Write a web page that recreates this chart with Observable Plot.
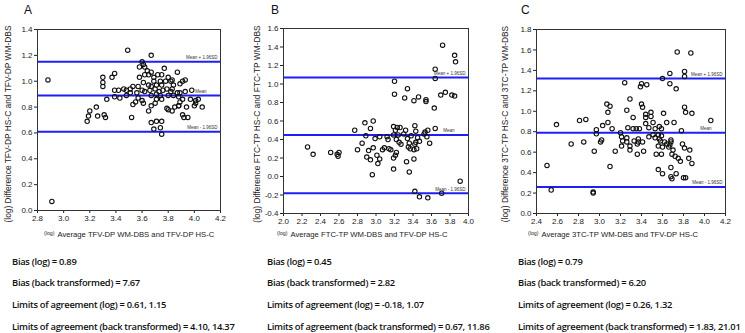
<!DOCTYPE html>
<html><head><meta charset="utf-8">
<script src="https://cdn.jsdelivr.net/npm/d3@7"></script>
<script src="https://cdn.jsdelivr.net/npm/@observablehq/plot@0.6"></script>
<style>
body{margin:0;background:#fff;}
#wrap{position:relative;width:745px;height:333px;overflow:hidden;background:#fff;font-family:"Liberation Sans",Arial,sans-serif;}
.abs{position:absolute;white-space:nowrap;}
.ylab{font-size:8.4px;color:#222;transform:translate(-50%,-50%) rotate(-90deg);line-height:10px;}
.xlab{font-size:7.7px;color:#222;line-height:12px;}
.xlab small{font-size:5.2px;vertical-align:2px;margin-right:3px;}
.plab{font-size:12px;color:#111;line-height:14px;}
.stat{font-family:"Open Sans",sans-serif;font-weight:600;font-size:9.4px;letter-spacing:-0.3px;color:#111;line-height:14px;}
svg{position:absolute;}
</style></head><body><div id="wrap"></div>
<script>
// Panel A: TFV-DP
const aX = [3.49,3.67,3.60,3.61,3.62,3.58,3.77,3.39,3.37,3.30,
3.30,3.30,3.64,3.67,3.65,3.69,3.62,3.58,3.72,3.75,
3.80,3.83,3.87,3.69,3.74,3.78,3.71,3.75,3.82,3.84,
3.91,3.93,3.89,3.61,3.65,3.67,3.57,3.53,3.46,3.42,
3.39,3.48,3.51,3.60,3.62,3.66,3.70,3.73,3.76,3.79,
3.82,3.83,3.87,3.89,3.93,3.98,3.56,3.51,3.48,3.67,
3.71,3.74,3.80,3.84,3.88,3.39,3.43,3.33,3.57,3.60,
3.55,3.61,3.53,3.71,3.70,3.75,3.91,3.89,3.88,3.97,
4.01,4.03,4.01,4.00,4.06,3.94,3.67,3.65,3.79,3.80,
3.83,3.85,3.88,3.91,3.92,3.95,3.25,3.20,3.26,3.31,
3.32,3.19,3.18,3.52,3.67,3.71,3.75,3.69,3.74,3.75,
2.88,2.91];
const aY = [1.24,1.20,1.15,1.13,1.11,1.11,1.10,1.06,1.03,1.03,
0.99,0.96,1.08,1.07,1.05,1.03,1.05,1.03,1.05,1.05,
1.03,1.01,1.07,1.00,1.00,1.00,0.97,0.97,1.00,0.97,
1.00,1.01,0.98,0.99,0.97,0.96,0.96,0.96,0.94,0.93,
0.93,0.93,0.94,0.93,0.92,0.93,0.94,0.92,0.93,0.94,
0.92,0.94,0.91,0.91,0.92,0.93,0.91,0.91,0.89,0.89,
0.90,0.89,0.89,0.89,0.88,0.88,0.87,0.86,0.87,0.85,
0.84,0.83,0.82,0.86,0.83,0.86,0.86,0.84,0.81,0.86,
0.85,0.86,0.83,0.81,0.80,0.80,0.81,0.77,0.79,0.78,
0.77,0.80,0.81,0.74,0.72,0.72,0.80,0.77,0.73,0.74,
0.72,0.73,0.69,0.72,0.68,0.69,0.69,0.63,0.64,0.59,
1.01,0.07];

// Panel B: FTC-TP
const bX = [3.72,3.85,3.86,3.64,3.64,3.20,3.34,3.20,3.31,3.41,
3.46,3.54,3.54,3.63,3.70,3.75,3.82,3.85,2.97,2.88,
2.77,2.94,2.89,2.85,2.80,2.99,3.04,3.12,3.13,3.19,
3.23,3.26,3.32,3.42,3.43,3.53,3.56,3.64,3.21,3.19,
3.24,3.30,3.38,3.45,3.55,3.52,3.22,3.25,3.34,3.36,
3.43,3.47,3.58,3.27,3.14,3.09,3.07,3.16,3.22,3.21,
3.19,2.92,2.97,2.90,2.94,3.01,3.04,3.02,3.35,3.37,
3.41,3.44,3.42,3.41,3.33,3.19,3.36,2.96,2.26,2.32,
2.51,2.58,2.60,2.59,3.91,3.42,3.47,3.56,3.71];
const bY = [1.42,1.31,1.24,1.16,1.06,1.03,0.95,0.89,0.85,0.82,
0.86,0.83,0.81,0.74,0.88,0.91,0.88,0.87,0.60,0.58,
0.50,0.52,0.44,0.36,0.29,0.41,0.43,0.43,0.40,0.54,
0.53,0.53,0.50,0.55,0.49,0.48,0.50,0.52,0.50,0.45,
0.45,0.46,0.44,0.42,0.43,0.46,0.40,0.37,0.41,0.36,
0.37,0.38,0.36,0.35,0.30,0.31,0.29,0.29,0.26,0.23,
0.20,0.28,0.31,0.21,0.18,0.23,0.19,0.14,0.32,0.30,
0.29,0.30,0.35,0.19,0.16,0.08,0.05,0.02,0.32,0.24,
0.26,0.24,0.26,0.22,-0.05,-0.16,-0.22,-0.23,-0.18];

// Panel C: 3TC-TP
const cX = [3.74,3.87,3.67,3.81,3.81,3.60,3.24,3.40,3.45,3.39,
3.67,3.73,3.29,3.07,3.10,3.08,3.26,3.40,3.41,3.32,
3.44,3.44,3.49,3.49,3.61,3.81,3.82,3.88,4.06,3.08,
3.03,3.12,2.81,2.87,2.59,2.97,3.27,3.32,3.35,3.38,
3.44,3.47,3.51,3.53,3.57,3.59,3.64,3.71,3.78,3.20,
2.97,2.73,2.85,3.02,3.01,2.95,3.15,3.10,2.50,3.21,
3.22,3.21,3.26,3.26,3.29,3.29,3.33,3.36,3.37,3.37,
3.41,3.42,3.36,3.47,3.51,3.53,3.56,3.57,3.58,3.59,
3.62,3.64,3.67,3.68,3.68,3.56,3.60,3.66,3.70,3.54,
3.59,3.69,3.72,3.75,3.77,3.79,3.81,3.86,3.85,3.88,
3.56,3.60,3.68,3.73,3.68,3.69,3.80,3.82,2.54,2.94,
2.94];
const cY = [1.58,1.57,1.37,1.39,1.34,1.32,1.28,1.27,1.26,1.24,
1.27,1.22,1.12,1.07,1.05,0.99,1.01,1.07,1.04,0.94,
0.97,0.94,0.99,0.95,0.98,1.04,0.99,0.98,0.91,0.89,
0.86,0.83,0.91,0.92,0.87,0.82,0.84,0.83,0.83,0.83,
0.88,0.84,0.89,0.83,0.85,0.83,0.89,0.89,0.81,0.79,
0.78,0.68,0.70,0.72,0.70,0.61,0.61,0.46,0.47,0.75,
0.71,0.66,0.74,0.70,0.66,0.62,0.71,0.68,0.73,0.70,
0.70,0.61,0.58,0.75,0.77,0.74,0.77,0.73,0.71,0.76,
0.70,0.68,0.67,0.72,0.70,0.66,0.65,0.65,0.62,0.58,
0.58,0.58,0.56,0.54,0.51,0.68,0.64,0.62,0.54,0.49,
0.43,0.39,0.45,0.39,0.36,0.34,0.35,0.35,0.23,0.21,
0.20];

// Bias / limits of agreement (log): [upper, mean, lower]
const aLines = [1.15, 0.89, 0.61];
const bLines = [1.07, 0.45, -0.18];
const cLines = [1.32, 0.79, 0.26];
const lineLabels = ["Mean + 1.96SD", "Mean", "Mean - 1.96SD"];

// Tick values
const aXTicks = [2.8,3.0,3.2,3.4,3.6,3.8,4.0,4.2];
const aYTicks = [0.0,0.2,0.4,0.6,0.8,1.0,1.2,1.4];
const bXTicks = [2.0,2.2,2.4,2.6,2.8,3.0,3.2,3.4,3.6,3.8,4.0];
const bYTicks = [-0.4,-0.2,0.0,0.2,0.4,0.6,0.8,1.0,1.2,1.4,1.6];
const cXTicks = [2.4,2.6,2.8,3.0,3.2,3.4,3.6,3.8,4.0,4.2];
const cYTicks = [0.0,0.2,0.4,0.6,0.8,1.0,1.2,1.4,1.6,1.8];

// Texts
const panelLetters = ["A", "B", "C"];
const yTitles = ["(log) Difference TFV-DP HS-C and TFV-DP WM-DBS",
                 "(log) Difference FTC-TP HS-C and FTC-TP WM-DBS",
                 "(log) Difference 3TC-TP HS-C and 3TC-TP WM-DBS"];
const xTitles = ["Average TFV-DP WM-DBS and TFV-DP HS-C",
                 "Average FTC-TP WM-DBS and TFV-DP HS-C",
                 "Average 3TC-TP WM-DBS and TFV-DP HS-C"];
const aStats = ["Bias (log) = 0.89", "Bias (back transformed) = 7.67",
                "Limits of agreement (log) = 0.61, 1.15", "Limits of agreement (back transformed) = 4.10, 14.37"];
const bStats = ["Bias (log) = 0.45", "Bias (back transformed) = 2.82",
                "Limits of agreement (log) = -0.18, 1.07", "Limits of agreement (back transformed) = 0.67, 11.86"];
const cStats = ["Bias (log) = 0.79", "Bias (back transformed) = 6.20",
                "Limits of agreement (log) = 0.26, 1.32", "Limits of agreement (back transformed) = 1.83, 21.01"];

const fmt = d => d.toFixed(1);
const wrap = document.getElementById("wrap");

function makePanel(p) {
  const pts = p.xs.map((x, i) => ({x, y: p.ys[i]}));
  const lines = p.lines.map((v, i) => ({v, label: lineLabels[i]}));
  const sd = lines.filter((d, i) => i !== 1);
  const mean = lines.filter((d, i) => i === 1);
  const svg = Plot.plot({
    width: p.w, height: p.h,
    marginLeft: p.ml, marginRight: p.mr, marginTop: p.mt, marginBottom: p.mb,
    style: {fontFamily: "Liberation Sans, Arial, sans-serif", fontSize: "8px", color: "#222", background: "transparent", overflow: "visible"},
    x: {domain: [p.xTicks[0], p.xTicks[p.xTicks.length - 1]], ticks: p.xTicks, tickFormat: fmt, tickSize: 3, tickPadding: 1.5, label: null},
    y: {domain: [p.yTicks[0], p.yTicks[p.yTicks.length - 1]], ticks: p.yTicks, tickFormat: fmt, tickSize: 3, tickPadding: 2, label: null},
    marks: [
      Plot.ruleY(lines, {y: "v", stroke: "#1f1ff5", strokeWidth: 2}),
      Plot.dot(pts, {x: "x", y: "y", r: 2.2, stroke: "#111", strokeWidth: 1.1, fill: "none"}),
      Plot.text(sd, {y: "v", text: "label", frameAnchor: "right", textAnchor: "end", dx: -3, dy: -4, fontSize: 4.5, fill: "#333"}),
      Plot.text(mean, {y: "v", text: "label", frameAnchor: "right", textAnchor: "end", dx: -14, dy: -4, fontSize: 4.5, fill: "#333"}),
      Plot.frame({stroke: "#333", strokeWidth: 1})
    ]
  });
  svg.style.left = p.left + "px";
  svg.style.top = "0px";
  wrap.appendChild(svg);

  const letter = document.createElement("div");
  letter.className = "abs plab";
  letter.style.left = p.letterX + "px"; letter.style.top = "3px";
  letter.textContent = p.letter;
  wrap.appendChild(letter);

  const yl = document.createElement("div");
  yl.className = "abs ylab";
  yl.style.left = p.yTitleX + "px"; yl.style.top = "124px";
  yl.textContent = p.yTitle;
  wrap.appendChild(yl);

  const xl = document.createElement("div");
  xl.className = "abs xlab";
  xl.style.left = p.xTitleX + "px"; xl.style.top = "227px";
  const sm = document.createElement("small"); sm.textContent = "(log)";
  xl.appendChild(sm);
  xl.appendChild(document.createTextNode(p.xTitle));
  wrap.appendChild(xl);

  const tops = [255, 276, 298, 320];
  p.stats.forEach((s, i) => {
    const d = document.createElement("div");
    d.className = "abs stat";
    d.style.left = p.statX + "px"; d.style.top = tops[i] + "px";
    d.textContent = s;
    wrap.appendChild(d);
  });
}

makePanel({xs: aX, ys: aY, lines: aLines, xTicks: aXTicks, yTicks: aYTicks,
  left: 0, w: 245, h: 225, ml: 37, mr: 25, mt: 29, mb: 15,
  letter: panelLetters[0], letterX: 24, yTitle: yTitles[0], yTitleX: 8,
  xTitle: xTitles[0], xTitleX: 44, stats: aStats, statX: 12});
makePanel({xs: bX, ys: bY, lines: bLines, xTicks: bXTicks, yTicks: bYTicks,
  left: 250, w: 240, h: 225, ml: 33, mr: 22, mt: 28, mb: 12,
  letter: panelLetters[1], letterX: 271, yTitle: yTitles[1], yTitleX: 257,
  xTitle: xTitles[1], xTitleX: 277, stats: bStats, statX: 267});
makePanel({xs: cX, ys: cY, lines: cLines, xTicks: cXTicks, yTicks: cYTicks,
  left: 495, w: 250, h: 225, ml: 41, mr: 20, mt: 29, mb: 12,
  letter: panelLetters[2], letterX: 521, yTitle: yTitles[2], yTitleX: 505,
  xTitle: xTitles[2], xTitleX: 528, stats: cStats, statX: 518});
</script></body></html>
